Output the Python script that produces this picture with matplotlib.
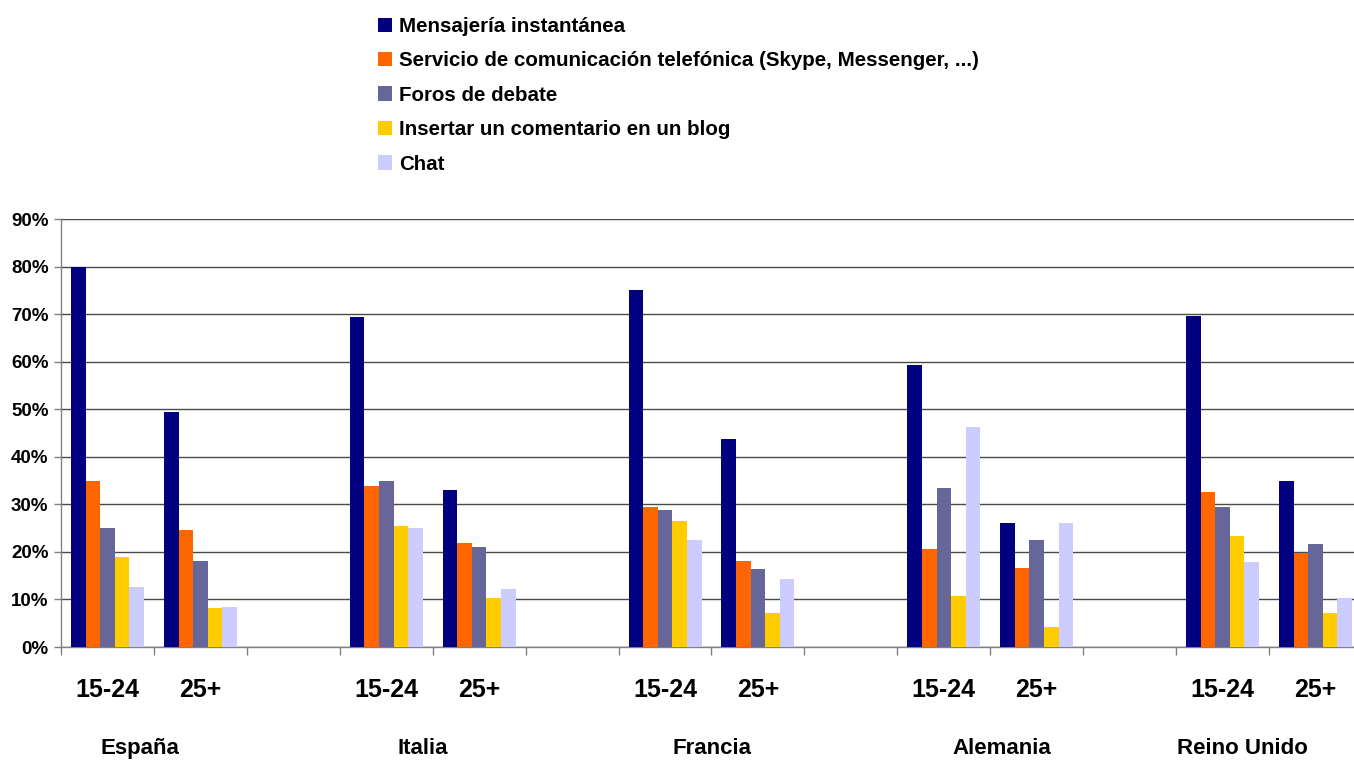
import matplotlib
matplotlib.use("Agg")
import matplotlib.pyplot as plt
import numpy as np
from matplotlib.ticker import FixedLocator

plt.rcParams['font.family'] = ['Liberation Sans', 'DejaVu Sans']
plt.rcParams['font.weight'] = 'bold'

# ---- data ----
series = ["Mensajería instantánea",
          "Servicio de comunicación telefónica (Skype, Messenger, ...)",
          "Foros de debate",
          "Insertar un comentario en un blog",
          "Chat"]
colors = ["#000080", "#FF6600", "#666699", "#FFCC00", "#CCCCFF"]

categories = ["15-24", "25+", "", "15-24", "25+", "", "15-24", "25+", "",
              "15-24", "25+", "", "15-24", "25+"]
countries = ["España", "Italia", "Francia", "Alemania", "Reino Unido"]
country_label_x = [0.35, 3.39, 6.51, 9.62, 12.21]

nan = np.nan
mensajeria = [80.0, 49.5, nan, 69.3, 33.1, nan, 75.1, 43.8, nan, 59.4, 26.0, nan, 69.7, 35.0]
servicio   = [35.0, 24.7, nan, 33.9, 21.9, nan, 29.5, 18.1, nan, 20.7, 16.7, nan, 32.5, 19.7]
foros      = [25.1, 18.1, nan, 35.0, 21.1, nan, 28.9, 16.5, nan, 33.5, 22.6, nan, 29.5, 21.6]
blog       = [19.0,  8.1, nan, 25.5, 10.2, nan, 26.6,  7.2, nan, 10.8,  4.3, nan, 23.4,  7.2]
chat       = [12.7,  8.5, nan, 25.1, 12.1, nan, 22.6, 14.2, nan, 46.3, 26.0, nan, 17.8, 10.2]
values = [mensajeria, servicio, foros, blog, chat]

W, H = 1354, 760
fig = plt.figure(figsize=(W / 100, H / 100), dpi=100)
ax = fig.add_axes([61 / W, 1 - 647 / H, (1362 - 61) / W, (647 - 219) / H])

x = np.arange(len(categories))
bw = 0.157
handles = []
for k, (vals, c, name) in enumerate(zip(values, colors, series)):
    b = ax.bar(x + (k - 2) * bw, vals, width=bw, color=c, label=name, zorder=3)
    handles.append(b)

ax.set_xlim(-0.5, len(categories) - 0.5)
ax.set_ylim(0, 90)
ax.set_yticks(np.arange(0, 91, 10))
ax.set_yticklabels([f"{v}%" for v in range(0, 91, 10)], fontsize=13.5, fontweight='bold')
ax.yaxis.grid(True, color="#4a4a4a", linewidth=1.0, zorder=0)
ax.set_axisbelow(True)

ax.set_xticks(x)
ax.set_xticklabels(categories, fontsize=18, fontweight='bold')
ax.xaxis.set_minor_locator(FixedLocator(np.arange(-0.5, len(categories), 1.0)))
ax.tick_params(axis='x', which='major', length=0, pad=22)
ax.tick_params(axis='x', which='minor', length=6, width=1, color="#808080", direction='out')
ax.tick_params(axis='y', length=5, width=1, color="#808080", pad=4)

for s in ['top', 'right']:
    ax.spines[s].set_visible(False)
for s in ['left', 'bottom']:
    ax.spines[s].set_color("#808080")
    ax.spines[s].set_linewidth(1.0)

for cx, name in zip(country_label_x, countries):
    ax.text(cx, (647 - 754) / 428, name, transform=ax.get_xaxis_transform(),
            ha='center', va='baseline', fontsize=16, fontweight='bold')

fig.legend(handles=handles, labels=series, loc='upper left',
           bbox_to_anchor=(378 / W, 1 - 17 / H), frameon=False,
           handlelength=0.7, handleheight=0.7,
           handletextpad=0.33, labelspacing=0.75, borderpad=0, borderaxespad=0,
           prop={'weight': 'bold', 'size': 14.8})

fig.savefig("out.png", dpi=100)
